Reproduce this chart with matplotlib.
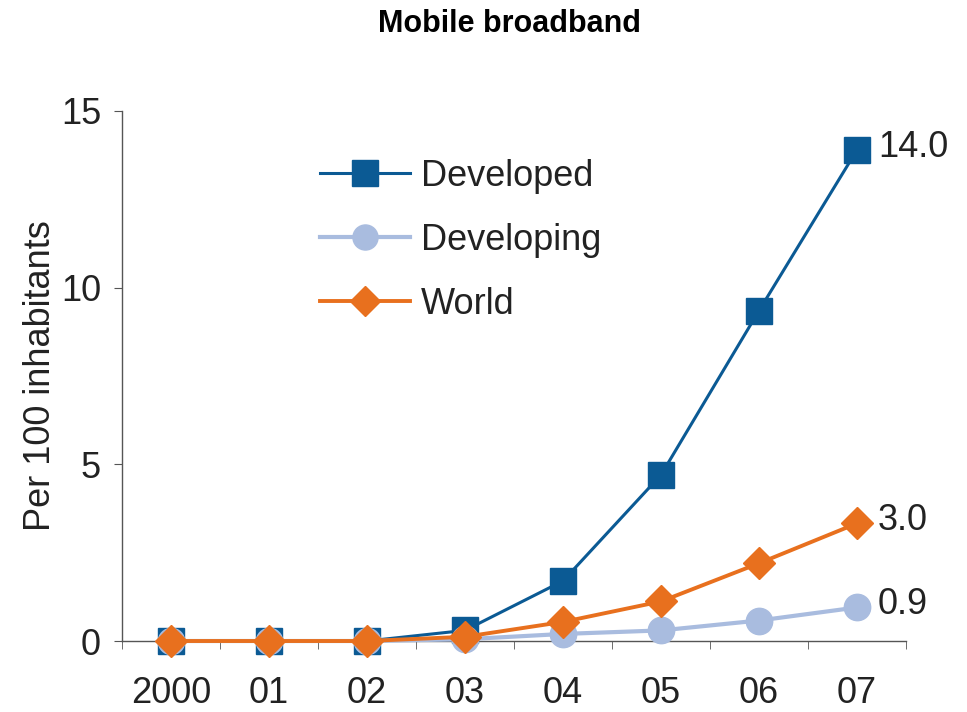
import matplotlib
matplotlib.use("Agg")
import matplotlib.pyplot as plt
import numpy as np

plt.rcParams['font.family'] = ['Liberation Sans', 'DejaVu Sans']

years = ["2000", "01", "02", "03", "04", "05", "06", "07"]
developed = [0.0, 0.0, 0.0, 0.3, 1.7, 4.7, 9.35, 13.9]
developing = [0.0, 0.0, 0.0, 0.05, 0.2, 0.3, 0.58, 0.95]
world = [0.0, 0.0, 0.0, 0.12, 0.54, 1.12, 2.2, 3.33]
end_labels = ["14.0", "0.9", "3.0"]
series_names = ["Developed", "Developing", "World"]

c_dev = "#0b5a94"
c_dvg = "#a9bcdf"
c_wld = "#e8701e"

fig = plt.figure(figsize=(9.67, 7.12), dpi=100)
fig.patch.set_facecolor("white")

ax = fig.add_axes([0.126, 0.0997, 0.811, 0.7445])
ax.set_facecolor("none")
x = np.arange(len(years))

ax.plot(x, developed, color=c_dev, lw=2.2, marker="s", ms=19, mec=c_dev, mfc=c_dev,
        label=series_names[0], zorder=3, clip_on=False)
ax.plot(x, developing, color=c_dvg, lw=3.0, marker="o", ms=19, mec=c_dvg, mfc=c_dvg,
        label=series_names[1], zorder=4, clip_on=False)
ax.plot(x, world, color=c_wld, lw=2.8, marker="D", ms=16, mec=c_wld, mfc=c_wld,
        label=series_names[2], zorder=5, clip_on=False)

for vals, lab in zip([developed, developing, world], end_labels):
    ax.annotate(lab, (x[-1], vals[-1]), xytext=(15, 2), textcoords="offset points",
                va="center", ha="left", fontsize=26, color="#222222")

ax.set_xlim(-0.5, len(years) - 0.5)
ax.set_ylim(0, 15)
ax.set_yticks([0, 5, 10, 15])
ax.set_xticks(x)
ax.set_xticklabels(years)
ax.set_xticks(np.arange(-0.5, len(years)), minor=True)
ax.tick_params(axis="x", which="major", length=0, pad=25, labelsize=26, labelcolor="#222222")
ax.tick_params(axis="x", which="minor", length=6, direction="out", color="#555555")
ax.tick_params(axis="y", which="major", length=6, direction="out", color="#555555", pad=9,
               labelsize=26, labelcolor="#222222")

for s in ["top", "right"]:
    ax.spines[s].set_visible(False)
for s in ["left", "bottom"]:
    ax.spines[s].set_color("#555555")
    ax.spines[s].set_linewidth(1.0)
ax.spines["bottom"].set_zorder(1)

ax.set_ylabel("Per 100 inhabitants", fontsize=26, color="#222222", labelpad=2)

leg = ax.legend(loc="upper left", bbox_to_anchor=(320 / 967, 1 - 159 / 712), bbox_transform=fig.transFigure,
                frameon=False, fontsize=26, handlelength=2.5, handletextpad=0.3,
                labelspacing=0.8, borderpad=0, borderaxespad=0, markerscale=0.95)
for t in leg.get_texts():
    t.set_color("#222222")

fig.text(0.527, 1 - 24 / 712, "Mobile broadband", ha="center", va="center", fontsize=22, fontweight="bold")

fig.savefig("out.png", dpi=100)
